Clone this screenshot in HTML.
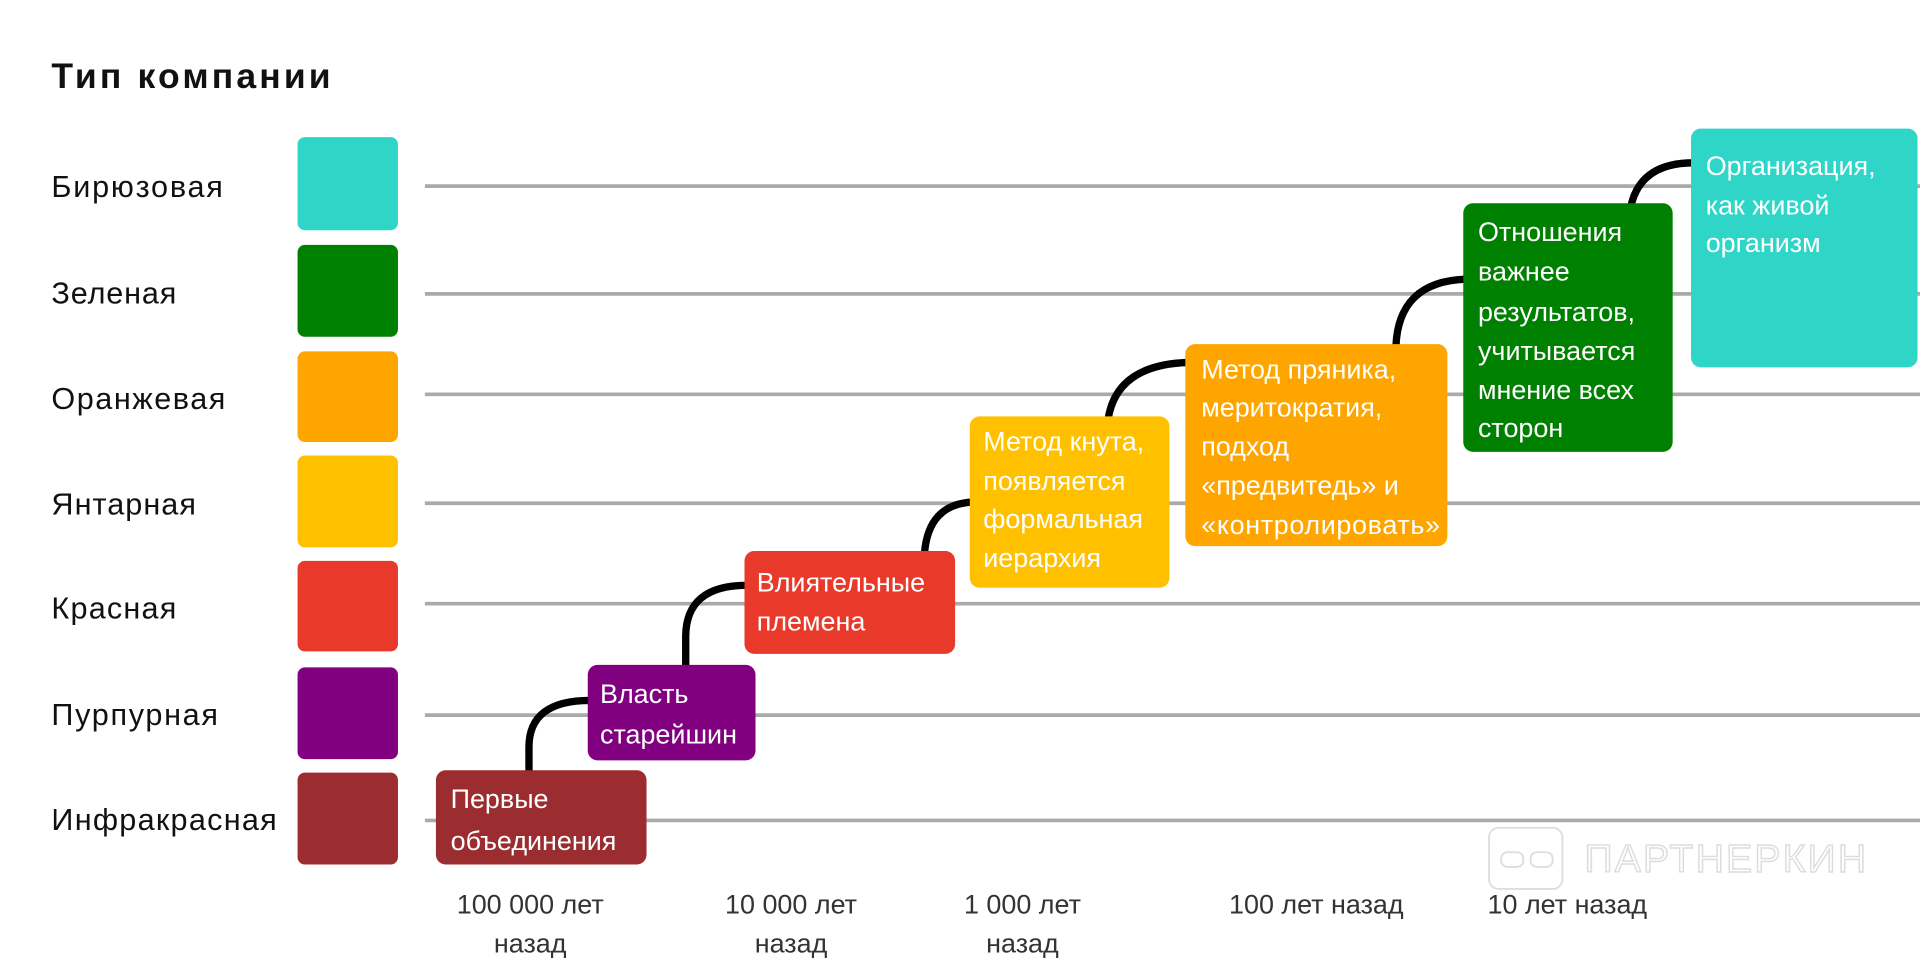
<!DOCTYPE html>
<html><head><meta charset="utf-8"><style>
html,body{margin:0;padding:0;background:#fff;width:1920px;height:960px;overflow:hidden}
svg{display:block}
text{font-family:"Liberation Sans","DejaVu Sans",sans-serif}
</style></head><body>
<svg width="1920" height="960" viewBox="0 0 1568 784" xmlns="http://www.w3.org/2000/svg">
<rect width="1568" height="784" fill="#fff"/>
<text x="42" y="72" font-size="29" font-weight="bold" fill="#111" textLength="228">Тип компании</text>
<g stroke="#aaa" stroke-width="3">
<line x1="347" y1="152" x2="1568" y2="152"/>
<line x1="347" y1="240" x2="1568" y2="240"/>
<line x1="347" y1="322" x2="1568" y2="322"/>
<line x1="347" y1="411" x2="1568" y2="411"/>
<line x1="347" y1="493" x2="1568" y2="493"/>
<line x1="347" y1="584" x2="1568" y2="584"/>
<line x1="347" y1="670" x2="1568" y2="670"/>
</g>
<g font-size="25" fill="#111">
<text x="42" y="161" textLength="140">Бирюзовая</text>
<text x="42" y="248" textLength="102">Зеленая</text>
<text x="42" y="334" textLength="142">Оранжевая</text>
<text x="42" y="420" textLength="118">Янтарная</text>
<text x="42" y="505" textLength="102">Красная</text>
<text x="42" y="592" textLength="136">Пурпурная</text>
<text x="42" y="678" textLength="184">Инфракрасная</text>
</g>
<rect x="243" y="112" width="82" height="76" rx="6" fill="#2fd6c8"/>
<rect x="243" y="200" width="82" height="75" rx="6" fill="#008000"/>
<rect x="243" y="287" width="82" height="74" rx="6" fill="#ffa500"/>
<rect x="243" y="372" width="82" height="75" rx="6" fill="#ffc000"/>
<rect x="243" y="458" width="82" height="74" rx="6" fill="#e8392a"/>
<rect x="243" y="545" width="82" height="75" rx="6" fill="#800080"/>
<rect x="243" y="631" width="82" height="75" rx="6" fill="#9b2c2f"/>
<g fill="none" stroke="#000" stroke-width="6">
<path d="M432 630 L432 610 Q432 572 482 572"/>
<path d="M560 545 L560 520 Q560 478 610 478"/>
<path d="M755 452 Q758 412 794 410"/>
<path d="M905 342 Q912 298 970 296"/>
<path d="M1140 283 Q1142 230 1197 228"/>
<path d="M1332 168 Q1340 133 1383 133"/>
</g>
<g font-size="22" fill="#fff">
<rect x="356" y="629" width="172" height="77" rx="8" fill="#9b2c2f"/>
<text x="368" y="660">Первые</text><text x="368" y="694">объединения</text>
<rect x="480" y="543" width="137" height="78" rx="8" fill="#800080"/>
<text x="490" y="574">Власть</text><text x="490" y="607">старейшин</text>
<rect x="608" y="450" width="172" height="84" rx="8" fill="#e8392a"/>
<text x="618" y="483">Влиятельные</text><text x="618" y="515">племена</text>
<rect x="792" y="340" width="163" height="140" rx="8" fill="#ffc000"/>
<text x="803" y="368">Метод кнута,</text><text x="803" y="400">появляется</text><text x="803" y="431">формальная</text><text x="803" y="463">иерархия</text>
<rect x="968" y="281" width="214" height="165" rx="8" fill="#ffa500"/>
<text x="981" y="309">Метод пряника,</text><text x="981" y="340">меритократия,</text><text x="981" y="372">подход</text><text x="981" y="404">«предвитедь» и</text><text x="981" y="436" textLength="195">«контролировать»</text>
<rect x="1195" y="166" width="171" height="203" rx="8" fill="#008000"/>
<text x="1207" y="197">Отношения</text><text x="1207" y="229">важнее</text><text x="1207" y="262">результатов,</text><text x="1207" y="294">учитывается</text><text x="1207" y="326">мнение всех</text><text x="1207" y="357">сторон</text>
<rect x="1381" y="105" width="185" height="195" rx="8" fill="#2fd6c8"/>
<text x="1393" y="143">Организация,</text><text x="1393" y="175">как живой</text><text x="1393" y="206">организм</text>
</g>
<g fill="none" stroke="#ddd" stroke-width="1.5">
<rect x="1216" y="676" width="60" height="50" rx="8"/>
<rect x="1226" y="696" width="18" height="12" rx="5"/>
<rect x="1250" y="696" width="18" height="12" rx="5"/>
</g>
<text x="1294" y="712" font-size="32" fill="none" stroke="#ddd" stroke-width="1.2" textLength="230">ПАРТНЕРКИН</text>
<g font-size="22" fill="#333" text-anchor="middle">
<text x="433" y="746">100 000 лет</text><text x="433" y="778">назад</text>
<text x="646" y="746">10 000 лет</text><text x="646" y="778">назад</text>
<text x="835" y="746">1 000 лет</text><text x="835" y="778">назад</text>
<text x="1075" y="746">100 лет назад</text>
<text x="1280" y="746">10 лет назад</text>
</g>
</svg>
</body></html>
